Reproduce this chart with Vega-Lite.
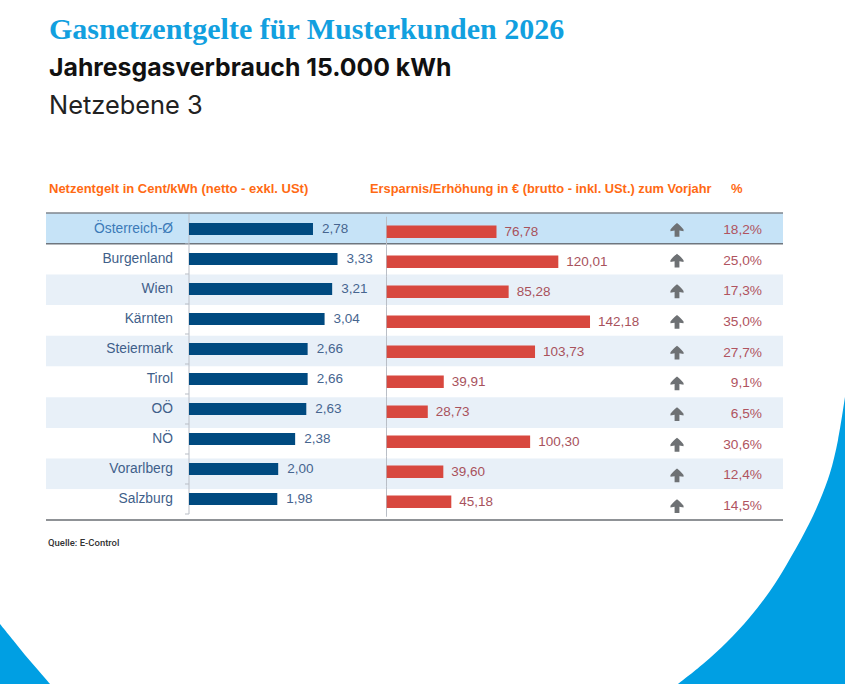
{
  "$schema": "https://vega.github.io/schema/vega-lite/v6.json",
  "description": "Gasnetzentgelte für Musterkunden 2026, Jahresgasverbrauch 15.000 kWh, Netzebene 3.",
  "autosize": {"type": "fit", "contains": "padding"},
  "width": 845,
  "height": 684,
  "padding": 0,
  "background": "white",
  "config": {"view": {"stroke": null}, "text": {"font": "Liberation Sans"}},
  "datasets": {
    "laender": [
      {"land": "Österreich-Ø", "zeile": "schnitt", "entgelt": 2.78, "entgelt_text": "2,78", "aenderung": 76.78, "aenderung_text": "76,78", "prozent": "18,2%"},
      {"land": "Burgenland", "zeile": "weiss", "entgelt": 3.33, "entgelt_text": "3,33", "aenderung": 120.01, "aenderung_text": "120,01", "prozent": "25,0%"},
      {"land": "Wien", "zeile": "blau", "entgelt": 3.21, "entgelt_text": "3,21", "aenderung": 85.28, "aenderung_text": "85,28", "prozent": "17,3%"},
      {"land": "Kärnten", "zeile": "weiss", "entgelt": 3.04, "entgelt_text": "3,04", "aenderung": 142.18, "aenderung_text": "142,18", "prozent": "35,0%"},
      {"land": "Steiermark", "zeile": "blau", "entgelt": 2.66, "entgelt_text": "2,66", "aenderung": 103.73, "aenderung_text": "103,73", "prozent": "27,7%"},
      {"land": "Tirol", "zeile": "weiss", "entgelt": 2.66, "entgelt_text": "2,66", "aenderung": 39.91, "aenderung_text": "39,91", "prozent": "9,1%"},
      {"land": "OÖ", "zeile": "blau", "entgelt": 2.63, "entgelt_text": "2,63", "aenderung": 28.73, "aenderung_text": "28,73", "prozent": "6,5%"},
      {"land": "NÖ", "zeile": "weiss", "entgelt": 2.38, "entgelt_text": "2,38", "aenderung": 100.30, "aenderung_text": "100,30", "prozent": "30,6%"},
      {"land": "Vorarlberg", "zeile": "blau", "entgelt": 2.00, "entgelt_text": "2,00", "aenderung": 39.60, "aenderung_text": "39,60", "prozent": "12,4%"},
      {"land": "Salzburg", "zeile": "weiss", "entgelt": 1.98, "entgelt_text": "1,98", "aenderung": 45.18, "aenderung_text": "45,18", "prozent": "14,5%"}
    ],
    "ecke_links": [
      {"x": 0, "y": 624}, {"x": 13, "y": 640}, {"x": 25, "y": 655}, {"x": 38, "y": 670}, {"x": 50, "y": 684}
    ],
    "ecke_rechts": [
      {"x": 845, "y": 397}, {"x": 838, "y": 440}, {"x": 830, "y": 473}, {"x": 820, "y": 500}, {"x": 809, "y": 524},
      {"x": 787, "y": 564}, {"x": 770, "y": 591}, {"x": 750, "y": 617}, {"x": 727, "y": 642}, {"x": 703, "y": 664}, {"x": 678, "y": 684}
    ]
  },
  "layer": [
    {
      "data": {"name": "ecke_links"},
      "mark": {"type": "area", "orient": "horizontal", "color": "#009fe3", "interpolate": "catmull-rom"},
      "encoding": {
        "y": {"field": "y", "type": "quantitative", "scale": {"domain": [0, 684], "range": [0, 684]}, "axis": null},
        "x": {"field": "x", "type": "quantitative", "scale": {"domain": [0, 845], "range": [0, 845]}, "axis": null},
        "x2": {"datum": 0}
      }
    },
    {
      "data": {"name": "ecke_rechts"},
      "mark": {"type": "area", "orient": "horizontal", "color": "#009fe3", "interpolate": "catmull-rom"},
      "encoding": {
        "y": {"field": "y", "type": "quantitative", "scale": {"domain": [0, 684], "range": [0, 684]}, "axis": null},
        "x": {"field": "x", "type": "quantitative", "scale": {"domain": [0, 845], "range": [0, 845]}, "axis": null},
        "x2": {"datum": 845}
      }
    },
    {
      "data": {"values": [{"text": "Gasnetzentgelte für Musterkunden 2026"}]},
      "mark": {"type": "text", "align": "left", "baseline": "alphabetic", "font": "Liberation Serif", "fontWeight": "bold", "fontSize": 30, "color": "#12a0df"},
      "encoding": {
        "text": {"field": "text"},
        "x": {"datum": 0, "type": "quantitative", "scale": {"domain": [0, 1], "range": [49, 50]}, "axis": null},
        "y": {"datum": 0, "type": "quantitative", "scale": {"domain": [0, 1], "range": [39, 40]}, "axis": null}
      }
    },
    {
      "data": {"values": [{"text": "Jahresgasverbrauch 15.000 kWh"}]},
      "mark": {"type": "text", "align": "left", "baseline": "alphabetic", "font": "Inter", "fontWeight": "bold", "fontSize": 24.8, "color": "#111111"},
      "encoding": {
        "text": {"field": "text"},
        "x": {"datum": 0, "type": "quantitative", "scale": {"domain": [0, 1], "range": [49, 50]}, "axis": null},
        "y": {"datum": 0, "type": "quantitative", "scale": {"domain": [0, 1], "range": [76, 77]}, "axis": null}
      }
    },
    {
      "data": {"values": [{"text": "Netzebene 3"}]},
      "mark": {"type": "text", "align": "left", "baseline": "alphabetic", "font": "Inter", "fontSize": 25.4, "color": "#222222"},
      "encoding": {
        "text": {"field": "text"},
        "x": {"datum": 0, "type": "quantitative", "scale": {"domain": [0, 1], "range": [49, 50]}, "axis": null},
        "y": {"datum": 0, "type": "quantitative", "scale": {"domain": [0, 1], "range": [114, 115]}, "axis": null}
      }
    },
    {
      "data": {"values": [{"text": "Netzentgelt in Cent/kWh (netto - exkl. USt)"}]},
      "mark": {"type": "text", "align": "left", "baseline": "alphabetic", "fontWeight": "bold", "fontSize": 13, "color": "#ff6a13"},
      "encoding": {
        "text": {"field": "text"},
        "x": {"datum": 0, "type": "quantitative", "scale": {"domain": [0, 1], "range": [49, 50]}, "axis": null},
        "y": {"datum": 0, "type": "quantitative", "scale": {"domain": [0, 1], "range": [193, 194]}, "axis": null}
      }
    },
    {
      "data": {"values": [{"text": "Ersparnis/Erhöhung in € (brutto - inkl. USt.) zum Vorjahr"}]},
      "mark": {"type": "text", "align": "left", "baseline": "alphabetic", "fontWeight": "bold", "fontSize": 12.85, "color": "#ff6a13"},
      "encoding": {
        "text": {"field": "text"},
        "x": {"datum": 0, "type": "quantitative", "scale": {"domain": [0, 1], "range": [370, 371]}, "axis": null},
        "y": {"datum": 0, "type": "quantitative", "scale": {"domain": [0, 1], "range": [193, 194]}, "axis": null}
      }
    },
    {
      "data": {"values": [{"text": "%"}]},
      "mark": {"type": "text", "align": "left", "baseline": "alphabetic", "fontWeight": "bold", "fontSize": 13, "color": "#ff6a13"},
      "encoding": {
        "text": {"field": "text"},
        "x": {"datum": 0, "type": "quantitative", "scale": {"domain": [0, 1], "range": [731, 732]}, "axis": null},
        "y": {"datum": 0, "type": "quantitative", "scale": {"domain": [0, 1], "range": [193, 194]}, "axis": null}
      }
    },
    {
      "data": {"values": [{"text": "Quelle: E-Control"}]},
      "mark": {"type": "text", "align": "left", "baseline": "alphabetic", "font": "Roboto", "fontWeight": 500, "fontSize": 9.5, "color": "#333333"},
      "encoding": {
        "text": {"field": "text"},
        "x": {"datum": 0, "type": "quantitative", "scale": {"domain": [0, 1], "range": [48, 49]}, "axis": null},
        "y": {"datum": 0, "type": "quantitative", "scale": {"domain": [0, 1], "range": [546, 547]}, "axis": null}
      }
    },
    {
      "data": {"name": "laender"},
      "encoding": {
        "y": {
          "field": "land",
          "type": "nominal",
          "sort": null,
          "axis": null,
          "scale": {
            "type": "band",
            "domain": ["Österreich-Ø", "Burgenland", "Wien", "Kärnten", "Steiermark", "Tirol", "OÖ", "NÖ", "Vorarlberg", "Salzburg"],
            "range": [213, 520],
            "paddingInner": 0,
            "paddingOuter": 0
          }
        }
      },
      "layer": [
        {
          "mark": {"type": "rect"},
          "encoding": {
            "x": {"datum": 0, "type": "quantitative", "scale": {"domain": [0, 1], "range": [46, 783]}, "axis": null},
            "x2": {"datum": 1},
            "color": {"field": "zeile", "type": "nominal", "legend": null, "scale": {"domain": ["schnitt", "weiss", "blau"], "range": ["#c6e3f7", "#ffffff", "#e8f0f8"]}}
          }
        },
        {
          "transform": [{"filter": "datum.zeile === 'schnitt'"}],
          "mark": {"type": "rule", "color": "#7f868e", "strokeWidth": 1.5},
          "encoding": {
            "y": {"field": "land", "type": "nominal", "bandPosition": 0},
            "x": {"datum": 0, "type": "quantitative", "scale": {"domain": [0, 1], "range": [46, 783]}, "axis": null},
            "x2": {"datum": 1}
          }
        },
        {
          "transform": [{"filter": "datum.zeile === 'schnitt'"}],
          "mark": {"type": "rule", "color": "#6f767e", "strokeWidth": 1.5},
          "encoding": {
            "y": {"field": "land", "type": "nominal", "bandPosition": 1},
            "x": {"datum": 0, "type": "quantitative", "scale": {"domain": [0, 1], "range": [46, 783]}, "axis": null},
            "x2": {"datum": 1}
          }
        },
        {
          "transform": [{"filter": "datum.land === 'Salzburg'"}],
          "mark": {"type": "rule", "color": "#8f9296", "strokeWidth": 2},
          "encoding": {
            "y": {"field": "land", "type": "nominal", "bandPosition": 1},
            "x": {"datum": 0, "type": "quantitative", "scale": {"domain": [0, 1], "range": [46, 783]}, "axis": null},
            "x2": {"datum": 1}
          }
        },
        {
          "mark": {"type": "point", "filled": true, "opacity": 1, "color": "#6e7174", "size": 190, "yOffset": 1.5, "shape": "M0,-1 C0.35,-0.7 0.75,-0.35 0.95,-0.05 L0.95,0.2 L0.35,0.1 L0.35,1 L-0.35,1 L-0.35,0.1 L-0.95,0.2 L-0.95,-0.05 C-0.75,-0.35 -0.35,-0.7 0,-1 Z"},
          "encoding": {
            "x": {"datum": 0, "type": "quantitative", "scale": {"domain": [0, 1], "range": [677, 678]}, "axis": null}
          }
        },
        {
          "mark": {"type": "text", "align": "right", "baseline": "middle", "dy": 1.5, "fontSize": 13.7, "color": "#b0545f"},
          "encoding": {
            "text": {"field": "prozent"},
            "x": {"datum": 0, "type": "quantitative", "scale": {"domain": [0, 1], "range": [762, 763]}, "axis": null}
          }
        }
      ],
      "resolve": {"scale": {"x": "independent", "color": "independent"}}
    },
    {
      "data": {"name": "laender"},
      "encoding": {
        "y": {
          "field": "land",
          "type": "nominal",
          "sort": null,
          "axis": null,
          "scale": {
            "type": "band",
            "domain": ["Österreich-Ø", "Burgenland", "Wien", "Kärnten", "Steiermark", "Tirol", "OÖ", "NÖ", "Vorarlberg", "Salzburg"],
            "range": [214, 514],
            "paddingInner": 0,
            "paddingOuter": 0
          }
        }
      },
      "layer": [
        {
          "mark": {"type": "rect", "color": "#b9bec6"},
          "encoding": {
            "x": {"datum": 0, "type": "quantitative", "scale": {"domain": [0, 1], "range": [188.5, 189.5]}, "axis": null},
            "x2": {"datum": 1}
          }
        },
        {
          "mark": {"type": "rule", "color": "#b9bec6", "strokeWidth": 1},
          "encoding": {
            "y": {"field": "land", "type": "nominal", "bandPosition": 1},
            "x": {"datum": 0, "type": "quantitative", "scale": {"domain": [0, 1], "range": [185, 189]}, "axis": null},
            "x2": {"datum": 1}
          }
        },
        {
          "mark": {"type": "text", "align": "right", "baseline": "middle", "fontSize": 13.8},
          "encoding": {
            "text": {"field": "land"},
            "x": {"datum": 0, "type": "quantitative", "scale": {"domain": [0, 1], "range": [173, 174]}, "axis": null},
            "color": {"condition": {"test": "datum.zeile === 'schnitt'", "value": "#3b7ab8"}, "value": "#3f5f8a"}
          }
        },
        {
          "mark": {"type": "bar", "height": 12, "color": "#004a80"},
          "encoding": {
            "x": {"field": "entgelt", "type": "quantitative", "scale": {"domain": [0, 4], "range": [189, 367.4]}, "axis": null}
          }
        },
        {
          "mark": {"type": "text", "align": "left", "baseline": "middle", "dx": 9, "fontSize": 13.5, "color": "#46658f"},
          "encoding": {
            "text": {"field": "entgelt_text"},
            "x": {"field": "entgelt", "type": "quantitative", "scale": {"domain": [0, 4], "range": [189, 367.4]}, "axis": null}
          }
        }
      ],
      "resolve": {"scale": {"x": "independent"}}
    },
    {
      "data": {"name": "laender"},
      "encoding": {
        "y": {
          "field": "land",
          "type": "nominal",
          "sort": null,
          "axis": null,
          "scale": {
            "type": "band",
            "domain": ["Österreich-Ø", "Burgenland", "Wien", "Kärnten", "Steiermark", "Tirol", "OÖ", "NÖ", "Vorarlberg", "Salzburg"],
            "range": [216.7, 516.7],
            "paddingInner": 0,
            "paddingOuter": 0
          }
        }
      },
      "layer": [
        {
          "mark": {"type": "rect", "color": "#b9bec6"},
          "encoding": {
            "x": {"datum": 0, "type": "quantitative", "scale": {"domain": [0, 1], "range": [386, 387]}, "axis": null},
            "x2": {"datum": 1}
          }
        },
        {
          "mark": {"type": "bar", "height": 12.5, "color": "#d8483f"},
          "encoding": {
            "x": {"field": "aenderung", "type": "quantitative", "scale": {"domain": [0, 150], "range": [386.7, 601.2]}, "axis": null}
          }
        },
        {
          "mark": {"type": "text", "align": "left", "baseline": "middle", "dx": 8, "fontSize": 13.5, "color": "#a8525c"},
          "encoding": {
            "text": {"field": "aenderung_text"},
            "x": {"field": "aenderung", "type": "quantitative", "scale": {"domain": [0, 150], "range": [386.7, 601.2]}, "axis": null}
          }
        }
      ],
      "resolve": {"scale": {"x": "independent"}}
    }
  ],
  "resolve": {"scale": {"x": "independent", "y": "independent"}}
}
